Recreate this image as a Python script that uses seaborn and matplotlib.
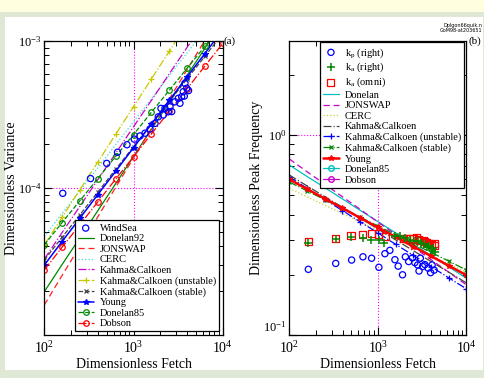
import numpy as np
import pandas as pd
import seaborn as sns
import matplotlib.pyplot as plt
from matplotlib.patches import Rectangle

# ---------------- data ----------------
# fetch positions where the fitted curves carry markers (every 0.2 decade)
FETCH = [100, 158, 251, 398, 631, 1000, 1585, 2512, 3981, 6310, 10000]

# (a) dimensionless variance
DONELAN92 = [1.97e-5, 3.01e-5, 4.59e-5, 7.01e-5, 1.07e-4, 1.64e-4, 2.50e-4, 3.82e-4, 5.83e-4, 8.91e-4, 1.36e-3]
JONSWAP = [1.60e-5, 2.54e-5, 4.02e-5, 6.37e-5, 1.01e-4, 1.60e-4, 2.54e-4, 4.02e-4, 6.37e-4, 1.01e-3, 1.60e-3]
CERC = [4.68e-5, 6.70e-5, 9.59e-5, 1.37e-4, 1.97e-4, 2.82e-4, 4.04e-4, 5.78e-4, 8.28e-4, 1.19e-3, 1.70e-3]
KC = [3.28e-5, 4.97e-5, 7.52e-5, 1.14e-4, 1.72e-4, 2.61e-4, 3.94e-4, 5.97e-4, 9.04e-4, 1.37e-3, 2.07e-3]
KC_UNSTABLE = [4.10e-5, 6.32e-5, 9.75e-5, 1.50e-4, 2.32e-4, 3.57e-4, 5.51e-4, 8.49e-4, 1.31e-3, 2.02e-3, 3.11e-3]
KC_STABLE = [3.24e-5, 4.61e-5, 6.58e-5, 9.38e-5, 1.34e-4, 1.91e-4, 2.72e-4, 3.87e-4, 5.52e-4, 7.87e-4, 1.12e-3]
YOUNG = [2.99e-5, 4.32e-5, 6.24e-5, 9.02e-5, 1.30e-4, 1.88e-4, 2.72e-4, 3.94e-4, 5.69e-4, 8.22e-4, 1.19e-3]
DONELAN85 = [4.11e-5, 5.81e-5, 8.20e-5, 1.16e-4, 1.64e-4, 2.31e-4, 3.27e-4, 4.61e-4, 6.52e-4, 9.20e-4, 1.30e-3]
DOBSON = [2.77e-5, 3.95e-5, 5.64e-5, 8.04e-5, 1.15e-4, 1.63e-4, 2.33e-4, 3.32e-4, 4.73e-4, 6.75e-4, 9.62e-4]

WS_FETCH = [161, 330, 501, 662, 845, 1020, 1183, 1346, 1531, 1742, 1897, 2032, 2254, 2160,
            2455, 2680, 2566, 2917, 3178, 3318, 3467, 3712, 3614, 3947, 4140, 3776]
WS_VAR = [9.2e-5, 1.16e-4, 1.47e-4, 1.75e-4, 1.97e-4, 2.15e-4, 2.26e-4, 2.36e-4, 2.52e-4, 2.75e-4,
          3.05e-4, 3.48e-4, 3.48e-4, 3.14e-4, 3.30e-4, 3.31e-4, 3.57e-4, 3.86e-4, 4.07e-4, 3.77e-4,
          4.18e-4, 4.22e-4, 4.52e-4, 4.77e-4, 4.60e-4, 5.15e-4]

# (b) dimensionless peak frequency
NU_DONELAN = [0.708, 0.621, 0.546, 0.479, 0.420, 0.369, 0.324, 0.284, 0.250, 0.219, 0.192]
NU_JONSWAP = [0.759, 0.656, 0.568, 0.491, 0.425, 0.367, 0.318, 0.275, 0.238, 0.206, 0.178]
NU_CERC = [0.541, 0.491, 0.446, 0.405, 0.367, 0.333, 0.303, 0.275, 0.250, 0.226, 0.206]
NU_KC = [0.631, 0.557, 0.492, 0.435, 0.384, 0.339, 0.299, 0.264, 0.233, 0.206, 0.182]
NU_KC_UNSTABLE = [0.617, 0.542, 0.476, 0.419, 0.368, 0.324, 0.284, 0.250, 0.220, 0.193, 0.170]
NU_KC_STABLE = [0.582, 0.526, 0.475, 0.430, 0.388, 0.351, 0.317, 0.286, 0.259, 0.234, 0.211]
NU_YOUNG = [0.600, 0.537, 0.481, 0.431, 0.385, 0.345, 0.309, 0.277, 0.248, 0.222, 0.199]
NU_DONELAN85 = []   # not visible in panel (b)
NU_DOBSON = []

KP_FETCH = [164, 334, 505, 678, 849, 1026, 1200, 1365, 1556, 1694, 1897, 2042, 2224, 2449,
            2612, 2810, 2911, 3013, 3191, 3388, 3690, 3936, 4093, 4312]
KP_RIGHT = [0.213, 0.228, 0.237, 0.246, 0.242, 0.218, 0.255, 0.265, 0.238, 0.221, 0.200, 0.246,
            0.233, 0.243, 0.230, 0.224, 0.209, 0.242, 0.220, 0.225, 0.216, 0.205, 0.224, 0.211]
KA_FETCH = [164, 334, 502, 673, 840, 1025, 1183, 1556, 1771, 2015, 2296, 2547, 2844, 3055,
            3303, 3540, 3758, 4030, 4200, 4393]
KA_RIGHT = [0.290, 0.302, 0.309, 0.304, 0.300, 0.297, 0.290, 0.313, 0.311, 0.307, 0.299, 0.295,
            0.295, 0.288, 0.285, 0.276, 0.279, 0.266, 0.271, 0.261]
KO_FETCH = [164, 334, 497, 678, 845, 1007, 1216, 1928, 2123, 2296, 2500, 2716, 2844, 2973,
            3241, 3388, 3540, 3690, 3857, 4030, 4312, 4393]
KA_OMNI = [0.292, 0.305, 0.313, 0.319, 0.321, 0.320, 0.311, 0.304, 0.304, 0.304, 0.302, 0.307,
           0.299, 0.297, 0.296, 0.292, 0.291, 0.287, 0.287, 0.282, 0.279, 0.287]

# ---------------- style ----------------
sns.set_theme(style="ticks", rc={
    "axes.edgecolor": "black", "axes.linewidth": 0.9,
    "xtick.color": "black", "ytick.color": "black", "text.color": "black",
    "axes.labelcolor": "black",
    "xtick.direction": "in", "ytick.direction": "in",
    "xtick.top": True, "ytick.right": True,
    "xtick.major.size": 6, "ytick.major.size": 6,
    "xtick.minor.size": 3.5, "ytick.minor.size": 3.5,
    "xtick.major.width": 0.8, "ytick.major.width": 0.8,
    "xtick.minor.width": 0.7, "ytick.minor.width": 0.7,
    "mathtext.fontset": "custom", "mathtext.rm": "Liberation Serif",
    "mathtext.it": "Liberation Serif:italic", "mathtext.bf": "Liberation Serif:bold",
})
plt.rcParams["font.family"] = ["Liberation Serif", "DejaVu Serif"]

fig = plt.figure(figsize=(4.85, 3.78), dpi=100)
fig.patch.set_facecolor("#dfe8d5")
fig.patches.append(Rectangle((0, 1 - 12 / 378), 1, 12 / 378, transform=fig.transFigure,
                             facecolor="#ffffdf", edgecolor="none", zorder=-10))
fig.patches.append(Rectangle((5 / 485, 1 - 370 / 378), 478 / 485, 353 / 378,
                             transform=fig.transFigure, facecolor="white",
                             edgecolor="none", zorder=-10))

ax1 = fig.add_axes([44.3 / 485, 1 - 335 / 378, 178.4 / 485, 294 / 378])
ax2 = fig.add_axes([289.3 / 485, 1 - 335 / 378, 177.2 / 485, 294 / 378])

LW = 0.9


def curve(ax, x, y, color, ls, label, marker=None, ms=4, lw=LW, mfc=None):
    kw = dict(color=color, linestyle=ls, linewidth=lw, label=label)
    if marker:
        kw.update(marker=marker, markersize=ms, markeredgewidth=0.9,
                  markeredgecolor=color,
                  markerfacecolor=color if mfc is None else mfc)
    sns.lineplot(x=x, y=y, ax=ax, estimator=None, sort=False, **kw)


# ---------------- panel (a) ----------------
ax1.set_xscale("log")
ax1.set_yscale("log")
ax1.axvline(1000, color="#ff00ff", ls=":", lw=0.8, zorder=0)
ax1.axhline(1e-4, color="#ff00ff", ls=":", lw=0.8, zorder=0)

sns.scatterplot(x=WS_FETCH, y=WS_VAR, ax=ax1, marker="o", s=20, facecolor="none",
                edgecolor="#0000ff", linewidth=0.9, label="WindSea", zorder=5)
curve(ax1, FETCH, DONELAN92, "#008800", "-", "Donelan92")
curve(ax1, FETCH, JONSWAP, "#ff2020", (0, (5, 3)), "JONSWAP")
curve(ax1, FETCH, CERC, "#33dddd", ":", "CERC")
curve(ax1, FETCH, KC, "#cc00cc", "-.", "Kahma&Calkoen")
curve(ax1, FETCH, KC_UNSTABLE, "#c8c800", "-.", "Kahma&Calkoen (unstable)", marker="+", ms=5)
curve(ax1, FETCH, KC_STABLE, "#444444", "--", "Kahma&Calkoen (stable)", marker="x", ms=3)
curve(ax1, FETCH, YOUNG, "#0000ff", "-", "Young", marker="*", ms=4, lw=1.1)
curve(ax1, FETCH, DONELAN85, "#008800", "--", "Donelan85", marker="o", ms=4, mfc="none")
curve(ax1, FETCH, DOBSON, "#ff0000", "-.", "Dobson", marker="o", ms=4, mfc="none")

ax1.set_xlim(100, 10000)
ax1.set_ylim(1e-5, 1e-3)
ax1.set_xticks([100, 1000, 10000], [r"$10^{2}$", r"$10^{3}$", r"$10^{4}$"])
ax1.set_yticks([1e-4, 1e-3], [r"$10^{-4}$", r"$10^{-3}$"])
ax1.set_xlabel("Dimensionless Fetch", fontsize=10, labelpad=1)
ax1.set_ylabel("Dimensionless Variance", fontsize=10, labelpad=0)
ax1.tick_params(axis="x", labelsize=10, pad=4)
ax1.tick_params(axis="y", labelsize=9, pad=2)
ax1.text(1.005, 1.0, "(a)", transform=ax1.transAxes, fontsize=8, va="center", ha="left")

leg1 = ax1.legend(loc="lower right", bbox_to_anchor=(0.98, 0.012), borderaxespad=0,
                  fontsize=7.5, frameon=True, fancybox=False, framealpha=1,
                  edgecolor="black", handlelength=1.5, handletextpad=0.6,
                  labelspacing=0.12, borderpad=0.3)
leg1.get_frame().set_linewidth(0.9)

# ---------------- panel (b) ----------------
ax2.set_xscale("log")
ax2.set_yscale("log")
ax2.axvline(1000, color="#ff00ff", ls=":", lw=0.8, zorder=0)
ax2.axhline(1.0, color="#ff00ff", ls=":", lw=0.8, zorder=0)

sns.scatterplot(x=KP_FETCH, y=KP_RIGHT, ax=ax2, marker="o", s=20, facecolor="none",
                edgecolor="#0000ff", linewidth=0.9, label=r"k$_\mathrm{p}$ (right)", zorder=5)
sns.scatterplot(x=KA_FETCH, y=KA_RIGHT, ax=ax2, marker="+", s=28, color="#008800",
                linewidth=1.1, label=r"k$_\mathrm{a}$ (right)", zorder=6)
sns.scatterplot(x=KO_FETCH, y=KA_OMNI, ax=ax2, marker="s", s=26, facecolor="none",
                edgecolor="#ff0000", linewidth=0.9, label=r"k$_\mathrm{a}$ (omni)", zorder=5)
curve(ax2, FETCH, NU_DONELAN, "#00c0c0", "-", "Donelan")
curve(ax2, FETCH, NU_JONSWAP, "#cc00cc", (0, (5, 3)), "JONSWAP")
curve(ax2, FETCH, NU_CERC, "#cccc33", ":", "CERC")
curve(ax2, FETCH, NU_KC, "#444444", "-.", "Kahma&Calkoen")
curve(ax2, FETCH, NU_KC_UNSTABLE, "#0000ff", "-.", "Kahma&Calkoen (unstable)", marker="+", ms=5)
curve(ax2, FETCH, NU_KC_STABLE, "#008800", "-.", "Kahma&Calkoen (stable)", marker="x", ms=2.5)
curve(ax2, FETCH, NU_YOUNG, "#ff0000", "-", "Young", marker="*", ms=4, lw=1.8)
ax2.plot(NU_DONELAN85, NU_DONELAN85, color="#00c0c0", lw=LW, marker="o", ms=4,
         mfc="none", label="Donelan85")
ax2.plot(NU_DOBSON, NU_DOBSON, color="#cc00cc", lw=LW, marker="o", ms=4,
         mfc="none", label="Dobson")

ax2.set_xlim(100, 10000)
ax2.set_ylim(0.1, 10 ** 0.47)
ax2.set_xticks([100, 1000, 10000], [r"$10^{2}$", r"$10^{3}$", r"$10^{4}$"])
ax2.set_yticks([0.1, 1.0], [r"$10^{-1}$", r"$10^{0}$"])
ax2.set_xlabel("Dimensionless Fetch", fontsize=10, labelpad=1)
ax2.set_ylabel("Dimensionless Peak Frequency", fontsize=10, labelpad=0)
ax2.tick_params(axis="x", labelsize=10, pad=4)
ax2.tick_params(axis="y", labelsize=9, pad=2)
# lift the bottom label so it clears the 10^2 label below it
ax2.get_yticklabels()[0].set_verticalalignment("bottom")
ax2.text(1.01, 1.0, "(b)", transform=ax2.transAxes, fontsize=8, va="center", ha="left")

leg2 = ax2.legend(loc="upper right", bbox_to_anchor=(0.988, 0.995), borderaxespad=0,
                  fontsize=7.5, frameon=True, fancybox=False, framealpha=1,
                  edgecolor="black", handlelength=1.5, handletextpad=0.6,
                  labelspacing=0.12, borderpad=0.3)
leg2.get_frame().set_linewidth(0.9)

fig.text(0.995, 1 - 23 / 378, "Dplgon66quik.n\nGoM98-at203651", fontsize=3.5,
         ha="right", va="top", family="DejaVu Sans", linespacing=1.0)

fig.savefig("out.png", dpi=100, facecolor=fig.get_facecolor())
